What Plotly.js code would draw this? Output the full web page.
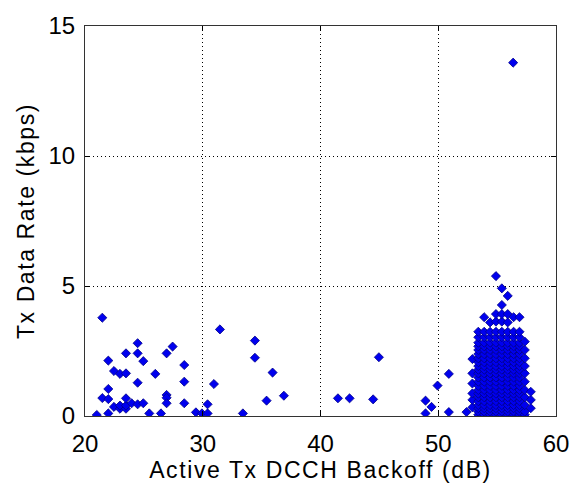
<!DOCTYPE html>
<html>
<head>
<meta charset="utf-8">
<script src="https://cdn.plot.ly/plotly-3.0.1.min.js"></script>
<style>
  html, body { margin: 0; padding: 0; background: #ffffff; }
  #chart { width: 574px; height: 491px; }
  /* slightly open tracking on the axis titles */
  .xtitle, .ytitle { letter-spacing: 1.6px; }
</style>
</head>
<body>
<div id="chart"></div>
<script>
// Scattered samples below the main operating region
const sparseBackoff = [
  21.0, 21.47, 21.47, 21.98, 21.98, 21.98, 21.98, 22.46, 22.46, 22.97, 22.97, 22.97,
  23.48, 23.48, 23.48, 23.48, 23.48, 23.96, 24.47, 24.47, 24.47, 24.47, 24.95, 24.95,
  25.46, 25.97, 26.45, 26.93, 26.93, 26.93, 26.93, 27.44, 28.43, 28.43, 28.43, 29.42,
  29.93, 30.41, 30.41, 30.95, 31.46, 33.41, 34.43, 34.43, 35.42, 35.93, 36.89, 41.48,
  42.47, 44.47, 44.96, 48.92, 48.92, 49.43, 49.94, 50.9, 50.9, 52.4, 56.36
];
const sparseRate = [
  0.04, 3.78, 0.69, 0.1, 0.65, 1.04, 2.13, 1.73, 0.35, 1.62, 0.28, 0.4,
  1.64, 2.41, 0.28, 0.4, 0.68, 0.49, 0.45, 2.8, 2.41, 1.28, 0.49, 2.11,
  0.1, 1.62, 0.1, 2.41, 0.81, 0.7, 0.49, 2.67, 1.96, 1.32, 0.49, 0.14,
  0.1, 0.1, 0.45, 1.23, 3.33, 0.1, 2.9, 2.24, 0.59, 1.67, 0.78, 0.68,
  0.68, 0.64, 2.26, 0.59, 0.1, 0.35, 1.17, 1.62, 0.15, 0.15, 13.59
];

// Dense cluster around 53-58 dB, one column of rates per backoff step
const clusterBackoff = [52.9, 53.4, 53.9, 54.4, 54.9, 55.4, 55.9, 56.4, 56.9, 57.35, 57.86];
const clusterRate = [
  [0.33, 0.62, 0.87, 1.25, 1.64, 2.19],
  [0.05, 0.17, 0.3, 0.42, 0.57, 0.72, 0.86, 1.0, 1.16, 1.32, 1.48, 1.64, 1.78, 1.92, 2.07, 2.22, 2.38, 2.54, 2.68, 2.82, 3.03, 3.24],
  [0.05, 0.17, 0.3, 0.42, 0.57, 0.72, 0.86, 1.0, 1.16, 1.32, 1.48, 1.64, 1.78, 1.92, 2.07, 2.22, 2.38, 2.54, 2.68, 2.82, 3.03, 3.24, 3.8],
  [0.05, 0.17, 0.3, 0.42, 0.57, 0.72, 0.86, 1.0, 1.16, 1.32, 1.48, 1.64, 1.78, 1.92, 2.07, 2.22, 2.38, 2.54, 2.68, 2.82, 3.03, 3.24, 3.6],
  [0.05, 0.17, 0.3, 0.42, 0.57, 0.72, 0.86, 1.0, 1.16, 1.32, 1.48, 1.64, 1.78, 1.92, 2.07, 2.22, 2.38, 2.54, 2.68, 2.82, 3.03, 3.24, 3.63, 3.92, 5.38],
  [0.05, 0.17, 0.3, 0.42, 0.57, 0.72, 0.86, 1.0, 1.16, 1.32, 1.48, 1.64, 1.78, 1.92, 2.07, 2.22, 2.38, 2.54, 2.68, 2.82, 3.03, 3.24, 3.63, 3.92, 4.27, 4.91],
  [0.05, 0.17, 0.3, 0.42, 0.57, 0.72, 0.86, 1.0, 1.16, 1.32, 1.48, 1.64, 1.78, 1.92, 2.07, 2.22, 2.38, 2.54, 2.68, 2.82, 3.03, 3.24, 3.6, 3.92, 4.62],
  [0.05, 0.17, 0.3, 0.42, 0.57, 0.72, 0.86, 1.0, 1.16, 1.32, 1.48, 1.64, 1.78, 1.92, 2.07, 2.22, 2.38, 2.54, 2.68, 2.82, 3.03, 3.24, 3.8],
  [0.05, 0.17, 0.3, 0.42, 0.57, 0.72, 0.86, 1.0, 1.16, 1.32, 1.48, 1.64, 1.78, 1.92, 2.07, 2.22, 2.38, 2.54, 2.68, 2.82, 3.03, 3.24, 3.8],
  [0.05, 0.17, 0.42, 0.72, 1.0, 1.32, 1.64, 1.92, 2.22, 2.54, 2.86],
  [0.3, 0.62, 0.93]
];

const xTicks = [20, 30, 40, 50, 60];
const yTicks = [0, 5, 10, 15];

const xs = sparseBackoff.slice();
const ys = sparseRate.slice();
clusterBackoff.forEach(function (bx, i) {
  clusterRate[i].forEach(function (r) { xs.push(bx); ys.push(r); });
});

const family = 'Liberation Sans, Arial, sans-serif';
const tickFont = { family: family, size: 24, color: '#000000' };
const titleFont = { family: family, size: 23, color: '#000000' };

const trace = {
  type: 'scatter',
  mode: 'markers',
  x: xs,
  y: ys,
  marker: {
    symbol: 'diamond',
    size: 7,
    color: '#0000ee',
    line: { color: '#000088', width: 0.8 }
  },
  hoverinfo: 'x+y'
};

const axisCommon = {
  showline: true,
  linecolor: '#333333',
  linewidth: 1,
  mirror: 'ticks',
  ticks: 'inside',
  ticklen: 5,
  tickcolor: '#000000',
  showgrid: true,
  gridcolor: '#000000',
  gridwidth: 1,
  griddash: '1px,3px',
  zeroline: false,
  tickfont: tickFont
};

const layout = {
  width: 574,
  height: 491,
  margin: { l: 85, r: 18, t: 26, b: 75 },
  paper_bgcolor: '#ffffff',
  plot_bgcolor: '#ffffff',
  showlegend: false,
  xaxis: Object.assign({}, axisCommon, {
    range: [20, 60],
    tickmode: 'array',
    tickvals: xTicks,
    ticktext: xTicks.map(String),
    ticklabelstandoff: 6,
    title: { text: 'Active Tx DCCH Backoff (dB)', font: titleFont, standoff: 4 }
  }),
  yaxis: Object.assign({}, axisCommon, {
    range: [0, 15],
    tickmode: 'array',
    tickvals: yTicks,
    ticktext: yTicks.map(String),
    ticklabelstandoff: 4,
    title: { text: 'Tx Data Rate (kbps)', font: titleFont, standoff: 7 }
  })
};

Plotly.newPlot('chart', [trace], layout, { staticPlot: true, displayModeBar: false });
</script>
</body>
</html>
